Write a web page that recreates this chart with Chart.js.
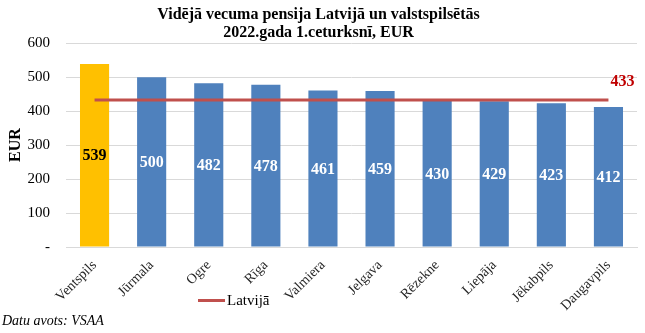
<!DOCTYPE html>
<html>
<head>
<meta charset="utf-8">
<script src="https://cdn.jsdelivr.net/npm/chart.js@4.4.1/dist/chart.umd.min.js"></script>
<style>
  html, body { margin: 0; padding: 0; background: #fff; }
  #wrap { width: 645px; height: 333px; position: relative; }
</style>
</head>
<body>
<div id="wrap"><canvas id="c"></canvas></div>
<script>
// data
const cities = ["Ventspils", "Jūrmala", "Ogre", "Rīga", "Valmiera", "Jelgava", "Rēzekne", "Liepāja", "Jēkabpils", "Daugavpils"];
const pension = [539, 500, 482, 478, 461, 459, 430, 429, 423, 412];
const latvija = 433;
const yTicks = [0, 100, 200, 300, 400, 500, 600];

const serif = "'Liberation Serif', 'Times New Roman', serif";
const barColors = cities.map((c, i) => i === 0 ? "#FFC000" : "#4F81BD");

// values inside bars + latvija label + legend + footnote
const labelsPlugin = {
    id: "labels",
    afterDraw(chart) {
        const ctx = chart.ctx;
        const bars = chart.getDatasetMeta(0).data;
        ctx.save();
        ctx.textAlign = "center";
        ctx.textBaseline = "middle";
        ctx.font = "bold 16px " + serif;
        bars.forEach((b, i) => {
            ctx.fillStyle = i === 0 ? "#000" : "#fff";
            ctx.fillText(pension[i], b.x, (b.y + b.base) / 2 + 1);
        });

        const line = chart.getDatasetMeta(1).data;
        const last = line[line.length - 1];
        ctx.fillStyle = "#C00000";
        ctx.font = "bold 16px " + serif;
        ctx.fillText(latvija, last.x + 14, last.y - 18);

        // legend
        ctx.strokeStyle = "#C0504D";
        ctx.lineWidth = 3;
        ctx.beginPath();
        ctx.moveTo(198, 300.5);
        ctx.lineTo(225, 300.5);
        ctx.stroke();
        ctx.fillStyle = "#000";
        ctx.textAlign = "left";
        ctx.font = "15px " + serif;
        ctx.fillText("Latvijā", 227, 301);

        // source
        ctx.font = "italic 14px " + serif;
        ctx.fillText("Datu avots: VSAA", 2, 321);
        ctx.restore();
    }
};

new Chart(document.getElementById("c"), {
    data: {
        labels: cities,
        datasets: [{
            type: "bar",
            label: "Pensija",
            data: pension,
            backgroundColor: barColors,
            categoryPercentage: 1,
            barPercentage: 0.51,
            order: 2
        }, {
            type: "line",
            label: "Latvijā",
            data: cities.map(() => latvija),
            borderColor: "#C0504D",
            borderWidth: 3,
            pointRadius: 0,
            order: 1
        }]
    },
    options: {
        animation: false,
        responsive: true,
        maintainAspectRatio: false,
        layout: { padding: { top: 6, right: 8, left: 0, bottom: 0 } },
        plugins: {
            legend: { display: false },
            tooltip: { enabled: false },
            title: {
                display: true,
                text: ["Vidējā vecuma pensija Latvijā un valstspilsētās", "2022.gada 1.ceturksnī, EUR"],
                color: "#000",
                font: { family: serif, size: 16, weight: "bold", lineHeight: 1.1 },
                padding: { top: 0, bottom: 2 }
            }
        },
        scales: {
            x: {
                grid: { display: false },
                border: { color: "#d9d9d9" },
                afterFit(axis) { axis.height = 86; },
                ticks: {
                    color: "#262626",
                    font: { family: serif, size: 14 },
                    maxRotation: 45,
                    minRotation: 45,
                    padding: 2
                }
            },
            y: {
                min: 0,
                max: 600,
                afterBuildTicks(axis) {
                    axis.ticks = yTicks.map(v => ({ value: v }));
                },
                afterFit(axis) { axis.width = 66; },
                grid: { color: "#d9d9d9", drawTicks: false },
                border: { display: false },
                ticks: {
                    color: "#000",
                    font: { family: serif, size: 15 },
                    padding: 16,
                    callback: v => v === 0 ? "-" : v
                },
                title: {
                    display: true,
                    text: "EUR",
                    color: "#000",
                    font: { family: serif, size: 16, weight: "bold" },
                    padding: { top: 6, bottom: 0 }
                }
            }
        }
    },
    plugins: [labelsPlugin]
});
</script>
</body>
</html>
